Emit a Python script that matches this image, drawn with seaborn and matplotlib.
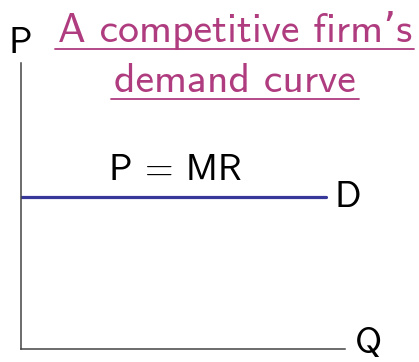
import matplotlib
matplotlib.use("Agg")
import matplotlib.pyplot as plt
import seaborn as sns
import pandas as pd
from matplotlib.lines import Line2D

# Perfectly elastic demand: price stays flat at every quantity
quantity = [0.0, 9.4]
price = [5.3, 5.3]

title_lines = ["A competitive firm\u2019s", "demand curve"]
curve_label = "P = MR"
demand_label = "D"
x_label = "Q"
y_label = "P"

sns.set_theme(style="white")
plt.rcParams["font.family"] = ["cmss10", "DejaVu Sans"]
plt.rcParams["axes.unicode_minus"] = False

W, H = 419, 362
fig = plt.figure(figsize=(W / 100, H / 100), dpi=100)
ax = fig.add_axes([21 / W, 13 / H, (345 - 21) / W, (349 - 63) / H])

df = pd.DataFrame({"Q": quantity, "P": price})
sns.lineplot(data=df, x="Q", y="P", ax=ax, color="#38389a", linewidth=2.3)

ax.set_xlim(0, 10)
ax.set_ylim(0, 10)
ax.set_xticks([])
ax.set_yticks([])
ax.set_xlabel("")
ax.set_ylabel("")
for side in ("top", "right"):
    ax.spines[side].set_visible(False)
for side in ("left", "bottom"):
    ax.spines[side].set_color("#444444")
    ax.spines[side].set_linewidth(1.1)

label_size = 26.5
ax.text(4.78, 5.9, curve_label, ha="center", va="baseline", fontsize=label_size, color="black")
ax.text(9.68, price[-1], demand_label, ha="left", va="center", fontsize=label_size, color="black")


def fx(px):
    return px / W


def fy(py):
    return 1 - py / H


fig.text(fx(20), fy(53), y_label, ha="center", va="baseline", fontsize=label_size, color="black")
fig.text(fx(355), fy(353), x_label, ha="left", va="baseline", fontsize=label_size, color="black")

title_color = "#b03c80"
fig.text(fx(235), fy(42), title_lines[0], ha="center", va="baseline", fontsize=30, color=title_color)
fig.text(fx(234.5), fy(92), title_lines[1], ha="center", va="baseline", fontsize=30, color=title_color)
fig.add_artist(Line2D([fx(55), fx(414)], [fy(48.5)] * 2, color=title_color, linewidth=1.3))
fig.add_artist(Line2D([fx(111), fx(359)], [fy(98.5)] * 2, color=title_color, linewidth=1.3))

fig.savefig("out.png", dpi=100)
